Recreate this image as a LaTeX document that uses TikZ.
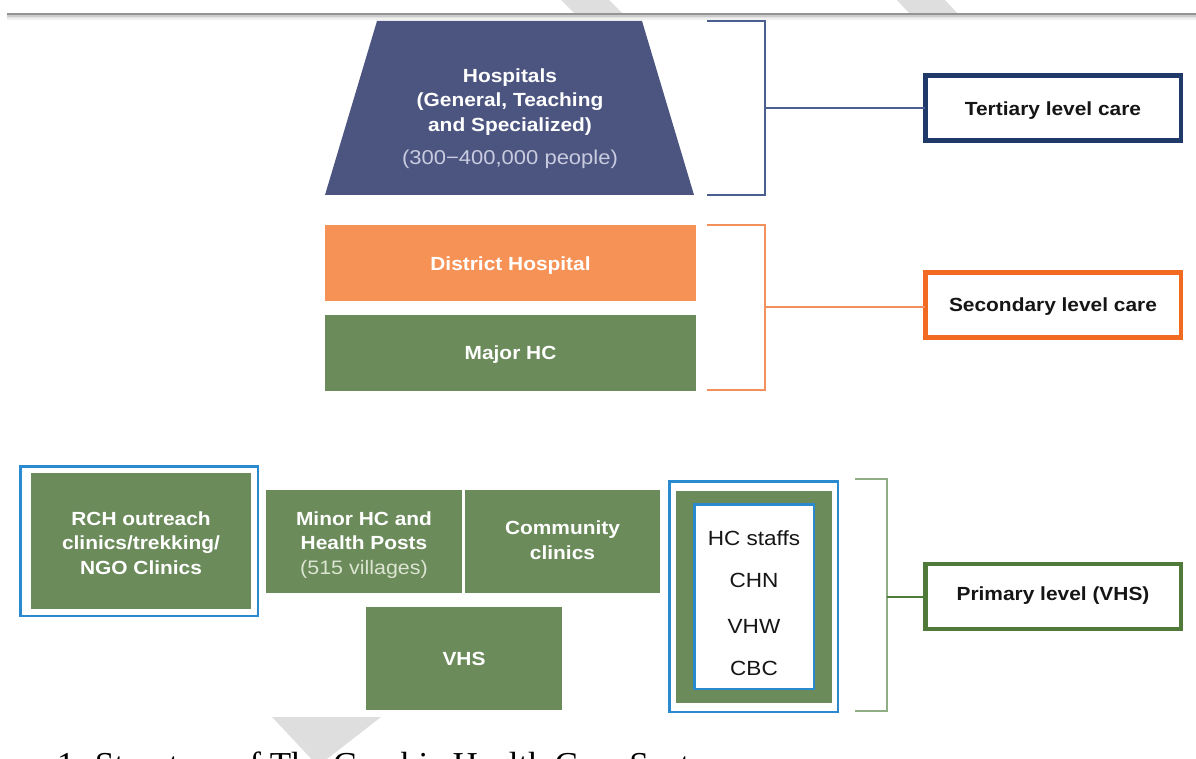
\documentclass[tikz,border=0pt]{standalone}
\usepackage{fontspec}
\setmainfont{Liberation Serif}
\newfontfamily\labfont[FakeStretch=1.1]{Liberation Sans}
\definecolor{navyfill}{HTML}{4C5580}
\definecolor{navyline}{HTML}{4A5F8F}
\definecolor{navyborder}{HTML}{1F3A68}
\definecolor{orangefill}{HTML}{F79256}
\definecolor{orangeline}{HTML}{F4905C}
\definecolor{orangeborder}{HTML}{F26A22}
\definecolor{greenfill}{HTML}{6B8B5B}
\definecolor{greenline}{HTML}{8FAE85}
\definecolor{greenborder}{HTML}{4F7A3A}
\definecolor{blueborder}{HTML}{2A8AD0}
\definecolor{wmgray}{HTML}{DEDEDE}
\definecolor{lightnavytext}{HTML}{C9CCE0}
\definecolor{lightgreentext}{HTML}{DCE5D2}
\definecolor{labeltext}{HTML}{151515}
\begin{document}
\begin{tikzpicture}[x=1pt,y=-1pt,
  every node/.style={inner sep=0pt,outer sep=0pt},
  boxtext/.style={font=\labfont\bfseries\fontsize{19}{24.5}\selectfont,text=white,align=center},
  greenbox/.style={fill=greenfill},
  orangebox/.style={fill=orangefill},
  bluebox/.style={draw=blueborder,line width=2.5pt},
  levelbox/.style={draw=#1,line width=4.5pt,fill=white,minimum width=255.5pt,minimum height=65pt},
  leveltext/.style={font=\labfont\bfseries\fontsize{19}{24}\selectfont,text=labeltext},
  staff/.style={font=\labfont\fontsize{20.5}{24}\selectfont,text=labeltext},
  brace/.style={line width=1.6pt,draw=#1},
  link/.style={line width=1.6pt,draw=#1}
]
\clip (0,0) rectangle (1196,759);
\fill[white] (0,0) rectangle (1196,759);
% watermark shapes
\fill[wmgray] (561,0) -- (609,0) -- (622,13) -- (574,13) -- cycle;
\fill[wmgray] (897,0) -- (945,0) -- (957,13) -- (909,13) -- cycle;
\fill[wmgray] (272,717) -- (381,717) -- (318,766) -- cycle;
% top rule with soft shadow
\draw[line width=1.2pt,draw=black!6] (7,19) -- (1196,19);
\draw[line width=1.2pt,draw=black!11] (7,17.5) -- (1196,17.5);
\draw[line width=1.2pt,draw=black!20] (7,16) -- (1196,16);
\draw[line width=2pt,draw=black!42] (7,14) -- (1196,14);

% tertiary
\fill[navyfill] (377,21) -- (642,21) -- (694,195) -- (325,195) -- cycle;
\node[boxtext] (hosp) at (510,102) {Hospitals\\(General, Teaching\\and Specialized)};
\node[font=\labfont\fontsize{20}{24}\selectfont,text=lightnavytext] (hosppop) at (510,159) {(300−400,000 people)};
\draw[brace=navyline] (707,21) -- (765,21) -- (765,195) -- (707,195);
\coordinate (b1) at (765,108);
\node[levelbox=navyborder] (tertbox) at (1053,108) {};
\node[leveltext] (tert) at ([yshift=-3pt]tertbox.center) {Tertiary level care};
\draw[link=navyline] (b1) -- (tertbox.west);

% secondary
\node[orangebox,minimum width=371pt,minimum height=76pt] (distbox) at (510.5,263) {};
\node[boxtext] (dist) at ([yshift=-3pt]distbox.center) {District Hospital};
\node[greenbox,minimum width=371pt,minimum height=76pt] (majorbox) at (510.5,353) {};
\node[boxtext] (major) at ([yshift=-2pt]majorbox.center) {Major HC};
\draw[brace=orangeline] (707,225) -- (765,225) -- (765,390) -- (707,390);
\coordinate (b2) at (765,307);
\node[levelbox=orangeborder] (secbox) at (1053,305) {};
\node[leveltext] (sec) at ([yshift=-1.5pt]secbox.center) {Secondary level care};
\draw[link=orangeline] (b2) -- (b2 -| secbox.west);

% primary
\node[bluebox,minimum width=237.5pt,minimum height=149.5pt] (rchframe) at (139,541) {};
\node[greenbox,minimum width=220pt,minimum height=136pt] (rchbox) at (141,541) {};
\node[boxtext] (rch) at ([yshift=-2pt]rchbox.center) {RCH outreach\\clinics/trekking/\\NGO Clinics};
\node[greenbox,minimum width=196pt,minimum height=103pt] (minorbox) at (364,541.5) {};
\node[boxtext] (minor) at ([yshift=-3.5pt]minorbox.center) {Minor HC and\\Health Posts\\{\mdseries\fontsize{19.5}{24.5}\selectfont\color{lightgreentext}(515 villages)}};
\node[greenbox,minimum width=195pt,minimum height=103pt] (commbox) at (562.5,541.5) {};
\node[boxtext] (comm) at ([yshift=1.5pt]commbox.center) {Community\\clinics};
\node[greenbox,minimum width=196pt,minimum height=103pt] (vhsbox) at (464,658.5) {};
\node[boxtext] (vhs) at (vhsbox.center) {VHS};
\node[bluebox,minimum width=168.5pt,minimum height=230.5pt] (staffframe) at (753.5,596.5) {};
\node[fill=greenfill,minimum width=156pt,minimum height=212pt] (staffgreen) at (754,597) {};
\node[bluebox,fill=white,minimum width=119.5pt,minimum height=184.5pt] (staffbox) at (754,596.5) {};
\node[staff] (hcs) at (754,538) {HC staffs};
\node[staff] (chn) at (754,580) {CHN};
\node[staff] (vhw) at (754,626) {VHW};
\node[staff] (cbc) at (754,668) {CBC};
\draw[brace=greenline] (855,479) -- (887,479) -- (887,711) -- (855,711);
\coordinate (b3) at (887,597);
\node[levelbox=greenborder] (primbox) at (1053,596.5) {};
\node[leveltext] (prim) at ([yshift=1pt]primbox.center) {Primary level (VHS)};
\draw[link=greenborder] (b3) -- (b3 -| primbox.west);

% caption (cut by the lower edge, as in the reference)
\node[anchor=base west,font=\fontsize{35}{40}\selectfont,text=black] (caption) at (57,776) {1. Structure of The Gambia Health Care System};
\end{tikzpicture}
\end{document}
